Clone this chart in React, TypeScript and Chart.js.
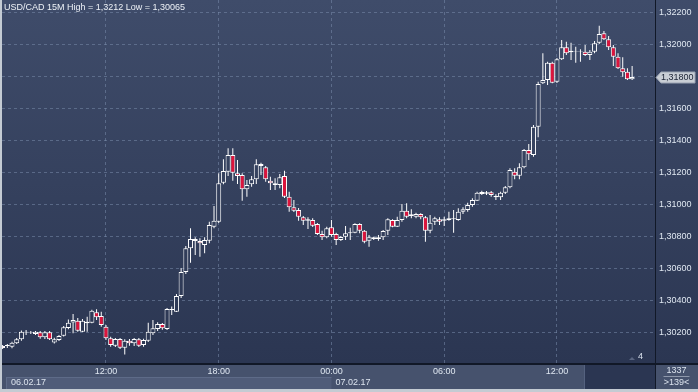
import { useEffect, useRef } from 'react';
import { Chart, registerables } from 'chart.js';

Chart.register(...registerables);

const FAMILY = '"Liberation Sans", Arial, sans-serif';

const titleText = 'USD/CAD 15M High = 1,3212 Low = 1,30065';

// 15-minute candles, 06.02.17 06:30 -> 07.02.17 16:00 (bar index 0..134)
const opens = [
  1.30119, 1.30119, 1.30114, 1.30136, 1.30161, 1.30203, 1.30203, 1.30193, 1.30205, 1.30173,
  1.30205, 1.30140, 1.30156, 1.30183, 1.30232, 1.30266, 1.30277, 1.30208, 1.30271, 1.30264,
  1.30329, 1.30306, 1.30239, 1.30167, 1.30121, 1.30163, 1.30108, 1.30152, 1.30136, 1.30161,
  1.30125, 1.30152, 1.30198, 1.30225, 1.30256, 1.30225, 1.30343, 1.30333, 1.30431, 1.30581,
  1.30729, 1.30788, 1.30775, 1.30750, 1.30777, 1.30864, 1.30896, 1.31139, 1.31208, 1.31313,
  1.31198, 1.31188, 1.31098, 1.31129, 1.31161, 1.31256, 1.31236, 1.31152, 1.31136, 1.31125,
  1.31181, 1.31052, 1.30986, 1.30969, 1.30923, 1.30902, 1.30906, 1.30881, 1.30819, 1.30798,
  1.30861, 1.30819, 1.30781, 1.30802, 1.30823, 1.30827, 1.30881, 1.30839, 1.30777, 1.30788,
  1.30788, 1.30798, 1.30839, 1.30906, 1.30864, 1.30906, 1.30964, 1.30931, 1.30927, 1.30944,
  1.30923, 1.30839, 1.30896, 1.30911, 1.30902, 1.30906, 1.30911, 1.30906, 1.30958, 1.30969,
  1.31000, 1.31027, 1.31069, 1.31071, 1.31079, 1.31048, 1.31048, 1.31077, 1.31111, 1.31208,
  1.31183, 1.31236, 1.31344, 1.31313, 1.31489, 1.31761, 1.31781, 1.31889, 1.31771, 1.31911,
  1.31986, 1.31964, 1.31958, 1.31961, 1.31958, 1.31938, 1.31958, 1.32014, 1.32073, 1.32036,
  1.31986, 1.31927, 1.31854, 1.31833, 1.31786,
];

const highs = [
  1.30125, 1.30131, 1.30146, 1.30169, 1.30215, 1.30219, 1.30212, 1.30212, 1.30212, 1.30212,
  1.30212, 1.30171, 1.30187, 1.30244, 1.30285, 1.30319, 1.30294, 1.30287, 1.30302, 1.30346,
  1.30348, 1.30333, 1.30250, 1.30177, 1.30169, 1.30169, 1.30161, 1.30163, 1.30169, 1.30169,
  1.30164, 1.30264, 1.30281, 1.30267, 1.30262, 1.30356, 1.30365, 1.30444, 1.30606, 1.30744,
  1.30854, 1.30798, 1.30792, 1.30798, 1.30896, 1.30994, 1.31198, 1.31286, 1.31354, 1.31354,
  1.31281, 1.31198, 1.31156, 1.31181, 1.31286, 1.31264, 1.31244, 1.31177, 1.31167, 1.31194,
  1.31214, 1.31083, 1.31031, 1.30981, 1.30931, 1.30923, 1.30917, 1.30888, 1.30839, 1.30864,
  1.30906, 1.30827, 1.30806, 1.30869, 1.30858, 1.30886, 1.30886, 1.30844, 1.30813, 1.30802,
  1.30813, 1.30844, 1.30917, 1.30911, 1.30927, 1.31006, 1.31011, 1.30973, 1.30952, 1.30948,
  1.30931, 1.30938, 1.30927, 1.30923, 1.30927, 1.30958, 1.30969, 1.30979, 1.30986, 1.31014,
  1.31042, 1.31083, 1.31089, 1.31088, 1.31088, 1.31067, 1.31083, 1.31119, 1.31229, 1.31229,
  1.31261, 1.31350, 1.31381, 1.31500, 1.31771, 1.31948, 1.31896, 1.31896, 1.31919, 1.32031,
  1.32021, 1.32014, 1.31989, 1.31973, 1.32000, 1.31969, 1.32025, 1.32120, 1.32088, 1.32056,
  1.32000, 1.31948, 1.31923, 1.31854, 1.31869,
];

const lows = [
  1.30100, 1.30106, 1.30104, 1.30131, 1.30152, 1.30187, 1.30194, 1.30187, 1.30164, 1.30162,
  1.30156, 1.30134, 1.30150, 1.30178, 1.30223, 1.30198, 1.30208, 1.30206, 1.30208, 1.30261,
  1.30281, 1.30239, 1.30156, 1.30114, 1.30113, 1.30100, 1.30065, 1.30121, 1.30119, 1.30113,
  1.30114, 1.30144, 1.30187, 1.30212, 1.30220, 1.30219, 1.30313, 1.30331, 1.30419, 1.30569,
  1.30639, 1.30688, 1.30677, 1.30698, 1.30761, 1.30854, 1.30888, 1.31129, 1.31181, 1.31152,
  1.31131, 1.31027, 1.31052, 1.31114, 1.31131, 1.31188, 1.31146, 1.31094, 1.31094, 1.31104,
  1.31044, 1.30958, 1.30956, 1.30902, 1.30875, 1.30850, 1.30863, 1.30813, 1.30781, 1.30792,
  1.30802, 1.30750, 1.30775, 1.30781, 1.30781, 1.30823, 1.30823, 1.30761, 1.30739, 1.30781,
  1.30777, 1.30781, 1.30813, 1.30861, 1.30863, 1.30896, 1.30917, 1.30917, 1.30917, 1.30911,
  1.30771, 1.30823, 1.30875, 1.30875, 1.30869, 1.30902, 1.30827, 1.30902, 1.30944, 1.30958,
  1.30989, 1.31025, 1.31063, 1.31063, 1.31052, 1.31031, 1.31031, 1.31069, 1.31104, 1.31161,
  1.31161, 1.31229, 1.31281, 1.31302, 1.31423, 1.31756, 1.31750, 1.31761, 1.31763, 1.31906,
  1.31938, 1.31906, 1.31889, 1.31896, 1.31931, 1.31906, 1.31948, 1.32006, 1.32031, 1.31969,
  1.31869, 1.31850, 1.31802, 1.31781, 1.31781,
];

const closes = [
  1.30106, 1.30125, 1.30139, 1.30161, 1.30208, 1.30208, 1.30206, 1.30208, 1.30173, 1.30205,
  1.30161, 1.30161, 1.30181, 1.30236, 1.30264, 1.30281, 1.30214, 1.30277, 1.30261, 1.30339,
  1.30298, 1.30250, 1.30167, 1.30125, 1.30163, 1.30108, 1.30152, 1.30136, 1.30163, 1.30121,
  1.30156, 1.30208, 1.30229, 1.30256, 1.30229, 1.30350, 1.30350, 1.30431, 1.30581, 1.30729,
  1.30788, 1.30775, 1.30761, 1.30781, 1.30875, 1.30902, 1.31136, 1.31213, 1.31313, 1.31202,
  1.31181, 1.31098, 1.31125, 1.31161, 1.31254, 1.31244, 1.31161, 1.31136, 1.31125, 1.31173,
  1.31052, 1.30986, 1.30964, 1.30927, 1.30902, 1.30911, 1.30871, 1.30819, 1.30798, 1.30854,
  1.30813, 1.30781, 1.30800, 1.30823, 1.30829, 1.30881, 1.30839, 1.30771, 1.30798, 1.30798,
  1.30798, 1.30838, 1.30911, 1.30864, 1.30906, 1.30964, 1.30927, 1.30942, 1.30944, 1.30923,
  1.30839, 1.30889, 1.30917, 1.30896, 1.30911, 1.30917, 1.30917, 1.30958, 1.30973, 1.31000,
  1.31031, 1.31077, 1.31081, 1.31079, 1.31063, 1.31056, 1.31077, 1.31111, 1.31219, 1.31183,
  1.31236, 1.31344, 1.31317, 1.31489, 1.31756, 1.31781, 1.31889, 1.31764, 1.31911, 1.31986,
  1.31948, 1.31954, 1.31961, 1.31958, 1.31938, 1.31958, 1.32011, 1.32069, 1.32036, 1.31986,
  1.31927, 1.31854, 1.31829, 1.31786, 1.31800,
];

const xTickBars = [22, 46, 70, 94, 118];
const xTickLabels = ['12:00', '18:00', '00:00', '06:00', '12:00'];
const dateStartBars = [-26, 70];
const dateLabels = ['06.02.17', '07.02.17'];
const yTickValues = [1.302, 1.304, 1.306, 1.308, 1.31, 1.312, 1.314, 1.316, 1.318, 1.32, 1.322];
const barCountLabel = '1337';
const spreadLabel = '>139<';
const cornerLabel = '4';

const X_MIN = -0.13;
const X_MAX = 138.87;
const Y_MIN = 1.300125;
const Y_MAX = 1.3228125;

const BG_TOP = '#3f4c6a';
const BG_BOTTOM = '#2b3652';
const STRIP = '#46526d';
const DATEBOX = '#505c79';
const GRID = 'rgba(120,138,170,0.55)';
const TICK = '#dfe7f1';
const RED = '#dc143c';
const WHITE = '#ffffff';
const BORDER = '#c4cbd3';
const SEP = '#111827';

const fmt = (v: number) => v.toFixed(5).replace('.', ',');

function areaGradient(chart: any) {
  const { ctx, chartArea } = chart;
  if (!chartArea) return BG_BOTTOM;
  const g = ctx.createLinearGradient(0, 0, 0, chartArea.bottom);
  g.addColorStop(0, BG_TOP);
  g.addColorStop(1, BG_BOTTOM);
  return g;
}

const decor = {
  id: 'decor',
  beforeDraw(chart: any) {
    const { ctx, chartArea: a, width, height } = chart;
    const xs = chart.scales.x;
    ctx.save();
    ctx.fillStyle = areaGradient(chart);
    ctx.fillRect(0, 0, width, a.bottom);
    ctx.fillStyle = STRIP;
    ctx.fillRect(0, a.bottom, width, height - a.bottom);
    // date box for the first day
    const mid = xs.getPixelForValue(dateStartBars[1]);
    ctx.fillStyle = DATEBOX;
    ctx.fillRect(a.left + 4, a.bottom + 14, mid - a.left - 4, height - 3 - a.bottom - 14);
    ctx.fillStyle = '#5e6b88';
    ctx.fillRect(a.left + 4, a.bottom + 14, mid - a.left - 4, 1);
    ctx.fillRect(a.left + 4, a.bottom + 14, 1, height - 3 - a.bottom - 14);
    // dark box at bottom right of the plot
    ctx.fillStyle = BG_BOTTOM;
    ctx.fillRect(a.right - 70, a.bottom, 70, height - 3 - a.bottom);
    ctx.fillStyle = '#55627f';
    ctx.fillRect(a.right - 71, a.bottom, 1, height - 3 - a.bottom);
    // separators
    ctx.fillStyle = SEP;
    ctx.fillRect(0, a.bottom, width, 2);
    ctx.fillRect(a.right, 0, 1, height - 3);
    // outer border
    ctx.fillStyle = BORDER;
    ctx.fillRect(0, 0, 2, height);
    ctx.fillRect(0, height - 3, width, 3);
    ctx.restore();
  },
  afterDraw(chart: any) {
    const { ctx, chartArea: a, height } = chart;
    const xs = chart.scales.x;
    const ys = chart.scales.y;
    ctx.save();
    ctx.font = `9px ${FAMILY}`;
    ctx.textBaseline = 'middle';
    ctx.textAlign = 'left';
    // header
    ctx.fillStyle = '#eef2f7';
    ctx.fillText(titleText, a.left + 2, 8);
    // dates
    ctx.fillStyle = '#dbe3ee';
    dateLabels.forEach((lab, i) => {
      const px = xs.getPixelForValue(dateStartBars[i]);
      ctx.fillText(lab, Math.max(a.left + 9, px + 4), a.bottom + 20);
    });
    // corner marker
    ctx.fillStyle = '#5b6681';
    ctx.beginPath();
    ctx.moveTo(a.right - 26, a.bottom - 3);
    ctx.lineTo(a.right - 20, a.bottom - 3);
    ctx.lineTo(a.right - 23, a.bottom - 6);
    ctx.closePath();
    ctx.fill();
    ctx.fillStyle = '#dbe3ee';
    ctx.textAlign = 'right';
    ctx.fillText(cornerLabel, a.right - 12, a.bottom - 6);
    // bottom-right counters
    const cx = (a.right + chart.width) / 2;
    ctx.textAlign = 'center';
    ctx.fillText(barCountLabel, cx, a.bottom + 8);
    ctx.fillStyle = '#8e98ab';
    ctx.fillRect(cx - 13, a.bottom + 13, 26, 1);
    ctx.fillStyle = '#dbe3ee';
    ctx.fillText(spreadLabel, cx, a.bottom + 20);
    // last price tag
    const last = closes[closes.length - 1];
    const py = Math.round(ys.getPixelForValue(last)) + 0.5;
    ctx.beginPath();
    ctx.moveTo(a.right + 1, py);
    ctx.lineTo(a.right + 6, py - 5.5);
    ctx.lineTo(a.right + 40, py - 5.5);
    ctx.lineTo(a.right + 40, py + 5.5);
    ctx.lineTo(a.right + 6, py + 5.5);
    ctx.closePath();
    ctx.fillStyle = '#c9ced5';
    ctx.fill();
    ctx.strokeStyle = '#9aa3b2';
    ctx.lineWidth = 1;
    ctx.stroke();
    ctx.fillStyle = '#1a2233';
    ctx.textAlign = 'left';
    ctx.fillText(fmt(last), a.right + 6, py);
    ctx.restore();
    void height;
  },
};

export default function App() {
  const ref = useRef<HTMLCanvasElement | null>(null);

  useEffect(() => {
    document.body.style.margin = '0';
    const canvas = ref.current;
    if (!canvas) return;
    const wickData = opens.map((_, i) => ({ x: i, y: [lows[i], highs[i]] }));
    const bodyData = opens.map((o, i) => ({ x: i, y: [o, closes[i]] }));

    const chart = new Chart(canvas, {
      type: 'bar',
      data: {
        datasets: [
          {
            label: 'wick',
            data: wickData as any,
            backgroundColor: WHITE,
            borderWidth: 0,
            barThickness: 1,
            grouped: false,
            order: 2,
            inflateAmount: 0,
          } as any,
          {
            label: 'body',
            data: bodyData as any,
            backgroundColor: (c: any) =>
              closes[c.dataIndex] >= opens[c.dataIndex] ? areaGradient(c.chart) : RED,
            borderColor: WHITE,
            borderWidth: 1,
            borderSkipped: false,
            barThickness: 5,
            grouped: false,
            order: 1,
            inflateAmount: 0,
          } as any,
        ],
      },
      options: {
        animation: false,
        responsive: false,
        maintainAspectRatio: false,
        events: [],
        layout: { padding: { left: 2, top: 0, right: 0, bottom: 0 } },
        plugins: {
          legend: { display: false },
          tooltip: { enabled: false },
          title: { display: false },
        },
        scales: {
          x: {
            type: 'linear',
            position: 'bottom',
            min: X_MIN,
            max: X_MAX,
            offset: false,
            grid: { color: GRID, lineWidth: 1, drawTicks: false, offset: false },
            border: { display: false, dash: [3, 3] },
            ticks: {
              color: TICK,
              font: { family: FAMILY, size: 9 },
              padding: 3,
              autoSkip: false,
              maxRotation: 0,
              callback: (v: any) => {
                const k = xTickBars.indexOf(Number(v));
                return k >= 0 ? xTickLabels[k] : '';
              },
            },
            afterBuildTicks: (s: any) => {
              s.ticks = xTickBars.map((v) => ({ value: v }));
            },
            afterFit: (s: any) => {
              s.height = 29;
              s.paddingLeft = 0;
              s.paddingRight = 0;
            },
          },
          y: {
            type: 'linear',
            position: 'right',
            min: Y_MIN,
            max: Y_MAX,
            grid: { color: GRID, lineWidth: 1, drawTicks: false },
            border: { display: false, dash: [3, 3] },
            ticks: {
              color: TICK,
              font: { family: FAMILY, size: 9 },
              padding: 4,
              callback: (v: any) => fmt(Number(v)),
            },
            afterBuildTicks: (s: any) => {
              s.ticks = yTickValues.map((v) => ({ value: v }));
            },
            afterFit: (s: any) => {
              s.width = 43;
              s.paddingTop = 0;
              s.paddingBottom = 0;
            },
          },
        } as any,
      },
      plugins: [decor as any],
    });
    return () => chart.destroy();
  }, []);

  return (
    <div style={{ position: 'fixed', left: 0, top: 0, width: 698, height: 392, background: BG_BOTTOM }}>
      <canvas ref={ref} width={698} height={392} style={{ display: 'block', width: 698, height: 392 }} />
    </div>
  );
}
